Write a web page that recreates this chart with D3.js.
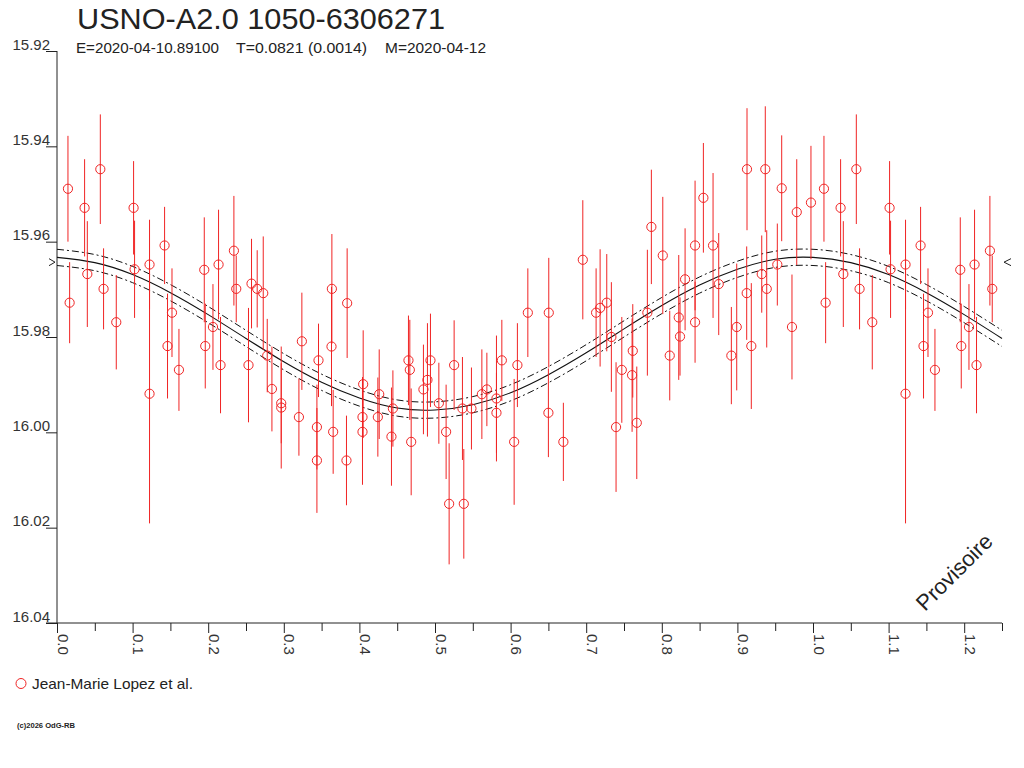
<!DOCTYPE html>
<html>
<head>
<meta charset="utf-8">
<script src="https://cdn.jsdelivr.net/npm/d3@7"></script>
<style>
  body { margin: 0; background: #fff; }
  svg { display: block; font-family: "Liberation Sans", Arial, sans-serif; }
</style>
</head>
<body>
<div id="chart"></div>
<script>
// 観測点 (phase, mag, err) - 画像から読み取り
const phases = [
  0.0145, 0.0167, 0.0365, 0.0401, 0.0573, 0.0616, 0.0784, 0.1013, 0.1026, 0.1224,
  0.1224, 0.1423, 0.1462, 0.1521, 0.1613, 0.1948, 0.1961, 0.2063, 0.2137, 0.2163,
  0.2340, 0.2371, 0.2533, 0.2573, 0.2648, 0.2728, 0.2781, 0.2843, 0.2966, 0.2966,
  0.3200, 0.3239, 0.3459, 0.3438, 0.3438, 0.3636, 0.3631, 0.3838, 0.3653, 0.3829,
  0.4050, 0.4041, 0.4041, 0.4262, 0.4244, 0.4443, 0.4424, 0.4649, 0.4667, 0.4685,
  0.4940, 0.4900, 0.4847, 0.5051, 0.5147, 0.5187, 0.5253, 0.5363, 0.5381, 0.5482,
  0.5620, 0.5686, 0.5813, 0.5813, 0.5884, 0.6090, 0.6047, 0.6228, 0.6505, 0.6500,
  0.6698, 0.6955, 0.7131, 0.7184, 0.7272, 0.7333, 0.7395, 0.7471, 0.7616, 0.7607,
  0.7669, 0.7809, 0.7862, 0.8013, 0.8105, 0.8224, 0.8241, 0.8308, 0.8440, 0.8440,
  0.8550, 0.8678, 0.8753, 0.8920, 0.8991, 0.9127, 0.9123, 0.9184, 0.9322, 0.9369,
  0.9388, 0.9528, 0.9586, 0.9722, 0.9785, 0.9973
];
const mags = [
  15.9489, 15.9728, 15.9529, 15.9668, 15.9448, 15.9699, 15.9769, 15.9529, 15.9658, 15.9648,
  15.9919, 15.9608, 15.9819, 15.9749, 15.9869, 15.9659, 15.9819, 15.9779, 15.9648, 15.9859,
  15.9619, 15.9699, 15.9859, 15.9688, 15.9699, 15.9708, 15.9839, 15.9909, 15.9939, 15.9948,
  15.9968, 15.9809, 15.9849, 15.9989, 16.0059, 15.9699, 15.9820, 15.9729, 15.9999, 16.0059,
  15.9899, 15.9968, 15.9999, 15.9920, 15.9968, 15.9950, 16.0009, 15.9849, 15.9869, 16.0020,
  15.9849, 15.9890, 15.9910, 15.9939, 15.9999, 16.0150, 15.9859, 15.9950, 16.0150, 15.9950,
  15.9920, 15.9910, 15.9929, 15.9959, 15.9849, 15.9859, 16.0020, 15.9749, 15.9749, 15.9959,
  16.0020, 15.9638, 15.9749, 15.9739, 15.9728, 15.9800, 15.9989, 15.9869, 15.9829, 15.9880,
  15.9980, 15.9749, 15.9569, 15.9629, 15.9839, 15.9759, 15.9799, 15.9679, 15.9608, 15.9769,
  15.9508, 15.9608, 15.9689, 15.9839, 15.9779, 15.9448, 15.9708, 15.9819, 15.9668, 15.9448,
  15.9699, 15.9648, 15.9488, 15.9779, 15.9538, 15.9518
];
const errs = [
  0.0111, 0.0085, 0.0102, 0.0111, 0.0115, 0.0085, 0.0099, 0.0098, 0.0102, 0.0094,
  0.0272, 0.0081, 0.0110, 0.0093, 0.0086, 0.0110, 0.0089, 0.0090, 0.0115, 0.0101,
  0.0115, 0.0070, 0.0120, 0.0094, 0.0081, 0.0119, 0.0077, 0.0089, 0.0084, 0.0128,
  0.0081, 0.0102, 0.0077, 0.0089, 0.0110, 0.0115, 0.0125, 0.0115, 0.0088, 0.0094,
  0.0113, 0.0084, 0.0111, 0.0094, 0.0083, 0.0080, 0.0103, 0.0094, 0.0105, 0.0112,
  0.0098, 0.0119, 0.0094, 0.0085, 0.0099, 0.0127, 0.0094, 0.0108, 0.0115, 0.0086,
  0.0094, 0.0077, 0.0132, 0.0084, 0.0085, 0.0088, 0.0132, 0.0093, 0.0115, 0.0093,
  0.0082, 0.0125, 0.0093, 0.0123, 0.0102, 0.0115, 0.0136, 0.0111, 0.0098, 0.0119,
  0.0118, 0.0132, 0.0120, 0.0123, 0.0094, 0.0131, 0.0082, 0.0107, 0.0136, 0.0085,
  0.0115, 0.0152, 0.0107, 0.0102, 0.0133, 0.0128, 0.0098, 0.0132, 0.0081, 0.0132,
  0.0123, 0.0086, 0.0111, 0.0110, 0.0111, 0.0119
];

// 近似曲線 (0.05ごと)
const curvePhases = [
  0.00, 0.05, 0.10, 0.15, 0.20, 0.25, 0.30, 0.35, 0.40, 0.45, 0.50, 0.55, 0.60,
  0.65, 0.70, 0.75, 0.80, 0.85, 0.90, 0.95, 1.00, 1.05, 1.10, 1.15, 1.20, 1.25
];
const curveMags = [
  15.9633, 15.9644, 15.9669, 15.9707, 15.9753, 15.9803, 15.9852, 15.9895, 15.9928,
  15.9949, 15.9953, 15.9942, 15.9917, 15.9879, 15.9833, 15.9783, 15.9734, 15.9691,
  15.9658, 15.9637, 15.9633, 15.9644, 15.9669, 15.9707, 15.9753, 15.9803
];
const envelopeOffset = 0.0017;
const markMag = 15.9643;

const xTicksMajor = [0.0, 0.1, 0.2, 0.3, 0.4, 0.5, 0.6, 0.7, 0.8, 0.9, 1.0, 1.1, 1.2];
const xTicksMinor = [0.05, 0.15, 0.25, 0.35, 0.45, 0.55, 0.65, 0.75, 0.85, 0.95, 1.05, 1.15, 1.25];
const yTicks = [15.92, 15.94, 15.96, 15.98, 16.00, 16.02, 16.04];

const titleText = "USNO-A2.0 1050-6306271";
const subTexts = ["E=2020-04-10.89100", "T=0.0821 (0.0014)", "M=2020-04-12"];
const legendText = "Jean-Marie Lopez et al.";
const stampText = "Provisoire";
const footerText = "(c)2026 OdG-RB";

const W = 1024, H = 768;
const red = "#f02424";
const ink = "#222";

const svg = d3.select("#chart").append("svg").attr("width", W).attr("height", H);

const x = d3.scaleLinear().domain([0, 1.25]).range([57, 1002]);
const y = d3.scaleLinear().domain([15.92, 16.04]).range([51, 623]);

// タイトル
svg.append("text").attr("x", 77).attr("y", 29)
  .attr("font-size", 29).attr("fill", ink)
  .attr("textLength", 368).attr("lengthAdjust", "spacingAndGlyphs")
  .text(titleText);

const subX = [76, 236, 385], subW = [143, 131, 101];
subTexts.forEach((t, i) => {
  svg.append("text").attr("x", subX[i]).attr("y", 53)
    .attr("font-size", 14.5).attr("fill", ink)
    .attr("textLength", subW[i]).attr("lengthAdjust", "spacingAndGlyphs")
    .text(t);
});

// 軸
const yAxis = d3.axisLeft(y).tickValues(yTicks).tickSize(11).tickFormat(d3.format(".2f"));
const gy = svg.append("g").attr("transform", "translate(" + x(0) + ",0)").call(yAxis);
gy.select(".domain").remove();
gy.selectAll("line").attr("stroke", ink);
gy.selectAll("text").attr("x", -7).attr("dy", null).attr("y", -2)
  .attr("font-size", 15).attr("fill", "#333").attr("font-family", null);
svg.append("line").attr("x1", x(0)).attr("x2", x(0))
  .attr("y1", y(15.92)).attr("y2", y(16.04)).attr("stroke", ink);

const xAxisMajor = d3.axisBottom(x).tickValues(xTicksMajor).tickSize(10).tickFormat(d3.format(".1f"));
const gx = svg.append("g").attr("transform", "translate(0," + y(16.04) + ")").call(xAxisMajor);
gx.select(".domain").remove();
gx.selectAll("line").attr("stroke", ink);
gx.selectAll("text")
  .attr("transform", "rotate(90)")
  .attr("x", 11).attr("y", 0).attr("dy", null)
  .attr("text-anchor", "start")
  .attr("font-size", 15).attr("fill", "#333").attr("font-family", null);

const xAxisMinor = d3.axisBottom(x).tickValues(xTicksMinor).tickSize(8).tickFormat("");
const gx2 = svg.append("g").attr("transform", "translate(0," + y(16.04) + ")").call(xAxisMinor);
gx2.select(".domain").remove();
gx2.selectAll("line").attr("stroke", ink);

svg.append("line").attr("x1", x(0) - 11).attr("x2", x(1.25))
  .attr("y1", y(16.04)).attr("y2", y(16.04)).attr("stroke", ink);

// 近似曲線と包絡線
const curveData = curvePhases.map((p, i) => [p, curveMags[i]]);
const line = (off) => d3.line()
  .x(d => x(d[0])).y(d => y(d[1] + off))
  .curve(d3.curveNatural);

svg.append("path").datum(curveData).attr("d", line(0))
  .attr("fill", "none").attr("stroke", "#111").attr("stroke-width", 1.1);
svg.append("path").datum(curveData).attr("d", line(-envelopeOffset))
  .attr("fill", "none").attr("stroke", "#111").attr("stroke-width", 1)
  .attr("stroke-dasharray", "7,3,2,3");
svg.append("path").datum(curveData).attr("d", line(envelopeOffset))
  .attr("fill", "none").attr("stroke", "#111").attr("stroke-width", 1)
  .attr("stroke-dasharray", "7,3,2,3");

// 両端の印
const my = y(markMag);
svg.append("path").attr("d", d3.line()([[x(0) - 8, my - 3.5], [x(0) - 2, my], [x(0) - 8, my + 3.5]]))
  .attr("fill", "none").attr("stroke", ink);
svg.append("path").attr("d", d3.line()([[x(1.25) + 9, my - 3.5], [x(1.25) + 2, my], [x(1.25) + 9, my + 3.5]]))
  .attr("fill", "none").attr("stroke", ink);

// 点 (位相1.0以降は繰り返し)
let pts = [];
phases.forEach((p, i) => {
  pts.push({ p: p, m: mags[i], e: errs[i] });
  if (p + 1 <= 1.25) pts.push({ p: p + 1, m: mags[i], e: errs[i] });
});

svg.append("g").selectAll("line").data(pts).enter().append("line")
  .attr("x1", d => x(d.p)).attr("x2", d => x(d.p))
  .attr("y1", d => y(d.m - d.e)).attr("y2", d => y(d.m + d.e))
  .attr("stroke", red).attr("stroke-width", 1);

svg.append("g").selectAll("circle").data(pts).enter().append("circle")
  .attr("cx", d => x(d.p)).attr("cy", d => y(d.m)).attr("r", 4.6)
  .attr("fill", "none").attr("stroke", red).attr("stroke-width", 1);

// Provisoire
svg.append("text").attr("transform", "translate(925,612) rotate(-45)")
  .attr("font-size", 22).attr("fill", ink).text(stampText);

// 凡例
svg.append("circle").attr("cx", 21).attr("cy", 683.5).attr("r", 5)
  .attr("fill", "none").attr("stroke", red);
svg.append("text").attr("x", 32).attr("y", 688.5)
  .attr("font-size", 15).attr("fill", ink)
  .attr("textLength", 161).attr("lengthAdjust", "spacingAndGlyphs")
  .text(legendText);

svg.append("text").attr("x", 17).attr("y", 728)
  .attr("font-size", 8).attr("font-weight", "bold").attr("fill", ink)
  .attr("textLength", 58).attr("lengthAdjust", "spacingAndGlyphs")
  .text(footerText);
</script>
</body>
</html>
